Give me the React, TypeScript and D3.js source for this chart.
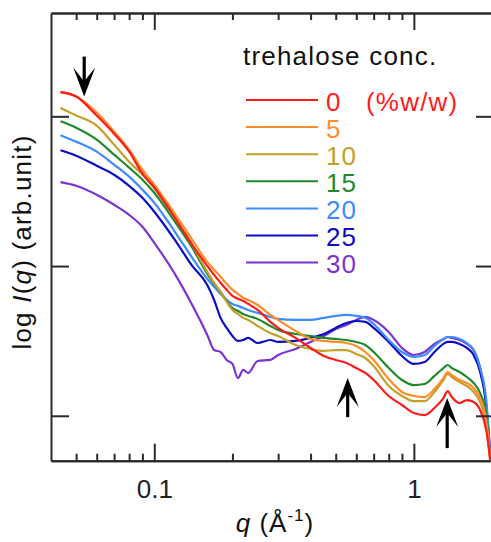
import React, { useRef, useEffect } from "react";
import * as d3 from "d3";

// scattering vector q (1/Å), shared by all curves
const qValues = [0.0435, 0.05, 0.06, 0.07, 0.08, 0.09, 0.1, 0.12, 0.14, 0.16, 0.17, 0.18, 0.19, 0.2, 0.21, 0.22, 0.23, 0.25, 0.28, 0.3, 0.35, 0.4, 0.45, 0.5, 0.55, 0.6, 0.65, 0.7, 0.8, 0.9, 1.0, 1.1, 1.2, 1.3, 1.35, 1.4, 1.5, 1.6, 1.7, 1.8, 1.9, 1.97];

// log I(q), arbitrary offset
const logI0 = [2.161, 2.132, 2.005, 1.884, 1.764, 1.617, 1.523, 1.322, 1.142, 1.001, 0.941, 0.888, 0.841, 0.801, 0.781, 0.767, 0.747, 0.707, 0.627, 0.587, 0.52, 0.453, 0.399, 0.373, 0.353, 0.319, 0.286, 0.239, 0.132, 0.072, 0.018, 0.005, 0.052, 0.118, 0.165, 0.125, 0.085, 0.105, 0.092, 0.038, -0.096, -0.296];
const logI5 = [2.161, 2.132, 2.025, 1.898, 1.777, 1.643, 1.543, 1.349, 1.175, 1.028, 0.975, 0.928, 0.881, 0.841, 0.814, 0.787, 0.774, 0.74, 0.674, 0.64, 0.567, 0.513, 0.5, 0.493, 0.486, 0.466, 0.426, 0.373, 0.245, 0.159, 0.132, 0.125, 0.179, 0.252, 0.292, 0.272, 0.239, 0.219, 0.185, 0.118, -0.029, -0.296];
const logI10 = [2.055, 2.005, 1.938, 1.811, 1.697, 1.61, 1.523, 1.322, 1.142, 0.961, 0.888, 0.827, 0.761, 0.707, 0.68, 0.654, 0.64, 0.6, 0.553, 0.533, 0.473, 0.446, 0.433, 0.439, 0.439, 0.413, 0.386, 0.332, 0.199, 0.132, 0.098, 0.098, 0.159, 0.239, 0.279, 0.259, 0.225, 0.199, 0.159, 0.092, -0.062, -0.31];
const logI15 = [1.967, 1.924, 1.844, 1.744, 1.657, 1.577, 1.49, 1.296, 1.122, 0.948, 0.881, 0.827, 0.767, 0.72, 0.7, 0.68, 0.667, 0.647, 0.6, 0.573, 0.546, 0.533, 0.52, 0.513, 0.506, 0.493, 0.473, 0.426, 0.319, 0.239, 0.205, 0.212, 0.266, 0.319, 0.339, 0.319, 0.292, 0.259, 0.219, 0.152, 0.005, -0.283];
const logI20 = [1.874, 1.831, 1.764, 1.677, 1.597, 1.51, 1.423, 1.229, 1.055, 0.914, 0.861, 0.814, 0.774, 0.747, 0.734, 0.72, 0.707, 0.687, 0.66, 0.647, 0.64, 0.64, 0.654, 0.667, 0.674, 0.667, 0.654, 0.613, 0.506, 0.426, 0.393, 0.406, 0.466, 0.513, 0.526, 0.526, 0.513, 0.486, 0.439, 0.319, 0.105, -0.263];
const logI25 = [1.773, 1.737, 1.67, 1.61, 1.536, 1.456, 1.363, 1.175, 1.001, 0.874, 0.774, 0.654, 0.587, 0.533, 0.5, 0.506, 0.52, 0.486, 0.506, 0.493, 0.5, 0.52, 0.546, 0.587, 0.62, 0.633, 0.627, 0.587, 0.493, 0.399, 0.346, 0.359, 0.426, 0.48, 0.493, 0.493, 0.48, 0.453, 0.406, 0.292, 0.072, -0.263];
const logI30 = [1.56, 1.536, 1.476, 1.409, 1.342, 1.262, 1.155, 0.948, 0.74, 0.54, 0.439, 0.426, 0.373, 0.346, 0.252, 0.306, 0.286, 0.366, 0.373, 0.406, 0.446, 0.493, 0.533, 0.58, 0.607, 0.64, 0.66, 0.64, 0.56, 0.453, 0.406, 0.426, 0.48, 0.513, 0.526, 0.52, 0.506, 0.48, 0.439, 0.319, 0.072, -0.283];

const concLabels = ["0", "5", "10", "15", "20", "25", "30"];
const seriesColors = ["#ff1a1a", "#ff8c28", "#c4a02a", "#1f8a2a", "#3d8cff", "#0c0cc4", "#7a34d2"];
const allSeries = [logI0, logI5, logI10, logI15, logI20, logI25, logI30];

// arrows: q position, tip and tail in log I
const arrowQ = [0.0537, 0.556, 1.344];
const arrowTip = [2.132, 0.252, 0.118];
const arrowTail = [2.399, -0.009, -0.216];

const majorQ = [0.1, 1];
const minorQ = [0.05, 0.06, 0.07, 0.08, 0.09, 0.2, 0.3, 0.4, 0.5, 0.6, 0.7, 0.8, 0.9, 2];
const yTicks = [0, 1, 2];

const W = 491;
const H = 542;
const FONT = "'Liberation Sans', Arial, Helvetica, sans-serif";
const AXIS = "#2a2a2a";

function SaxsChart() {
  const svgRef = useRef(null);

  useEffect(() => {
    const svg = d3.select(svgRef.current);
    svg.selectAll("*").remove();

    const left = 51, right = 492, top = 13, bottom = 460.7;

    const x = d3.scaleLog().domain([0.04, 2.0]).range([left, right]);
    const y = d3.scaleLinear().domain([-0.3, 2.69]).range([bottom, top]);

    svg.append("defs").append("clipPath").attr("id", "plotclip")
      .append("rect").attr("x", left).attr("y", top).attr("width", right - left).attr("height", bottom - top);

    // curves, last (30%) drawn first so red is on top
    const line = d3.line()
      .x((d) => x(d[0]))
      .y((d) => y(d[1]))
      .curve(d3.curveMonotoneX);

    const curves = svg.append("g").attr("clip-path", "url(#plotclip)");
    for (let i = allSeries.length - 1; i >= 0; i--) {
      const pts = qValues.map((q, j) => [q, allSeries[i][j]]);
      curves.append("path")
        .attr("d", line(pts))
        .attr("fill", "none")
        .attr("stroke", seriesColors[i])
        .attr("stroke-width", 2.2)
        .attr("stroke-linejoin", "round");
    }

    const styleAxis = (g) => {
      g.select(".domain").attr("stroke", AXIS).attr("stroke-width", 2);
      g.selectAll(".tick line").attr("stroke", AXIS).attr("stroke-width", 2);
    };

    // bottom axis
    const gb = svg.append("g").attr("transform", `translate(0,${bottom})`);
    gb.call(d3.axisBottom(x).tickValues(majorQ).tickSize(-17).tickSizeOuter(0).tickPadding(19)
      .tickFormat((d) => (d === 1 ? "1" : "0.1")));
    styleAxis(gb);
    gb.selectAll("text").attr("font-size", 26).attr("font-family", FONT).attr("fill", "#222");
    const gbm = svg.append("g").attr("transform", `translate(0,${bottom})`);
    gbm.call(d3.axisBottom(x).tickValues(minorQ).tickSize(-7).tickSizeOuter(0).tickFormat(() => ""));
    styleAxis(gbm);

    // top axis
    const gt = svg.append("g").attr("transform", `translate(0,${top})`);
    gt.call(d3.axisTop(x).tickValues(majorQ).tickSize(-17).tickSizeOuter(0).tickFormat(() => ""));
    styleAxis(gt);
    const gtm = svg.append("g").attr("transform", `translate(0,${top})`);
    gtm.call(d3.axisTop(x).tickValues(minorQ).tickSize(-7).tickSizeOuter(0).tickFormat(() => ""));
    styleAxis(gtm);

    // left and right axes
    const gl = svg.append("g").attr("transform", `translate(${left},0)`);
    gl.call(d3.axisLeft(y).tickValues(yTicks).tickSize(-18).tickSizeOuter(0).tickFormat(() => ""));
    styleAxis(gl);
    const gr = svg.append("g").attr("transform", `translate(${right},0)`);
    gr.call(d3.axisRight(y).tickValues(yTicks).tickSize(-16).tickSizeOuter(0).tickFormat(() => ""));
    styleAxis(gr);

    // arrows
    arrowQ.forEach((q, i) => {
      const ax = x(q);
      const tipY = y(arrowTip[i]);
      const tailY = y(arrowTail[i]);
      const dir = tailY < tipY ? 1 : -1; // 1 = pointing down
      const g = svg.append("g").attr("transform", `translate(${ax},${tipY})`);
      const len = Math.abs(tailY - tipY);
      g.append("line")
        .attr("x1", 0).attr("x2", 0)
        .attr("y1", -dir * 14).attr("y2", -dir * len)
        .attr("stroke", "#000").attr("stroke-width", 3.2);
      g.append("path")
        .attr("d", `M0,0 L-11,${-dir * 29} L0,${-dir * 15} L11,${-dir * 29} Z`)
        .attr("fill", "#000");
    });

    // legend
    const lg = svg.append("g").attr("font-family", FONT).attr("font-size", 26);
    lg.append("text").attr("x", 243).attr("y", 65).attr("fill", "#111")
      .attr("letter-spacing", 1.2).text("trehalose conc.");
    concLabels.forEach((c, i) => {
      const ly = 100 + i * 27.1;
      lg.append("line").attr("x1", 246).attr("x2", 318).attr("y1", ly).attr("y2", ly)
        .attr("stroke", seriesColors[i]).attr("stroke-width", 2);
      lg.append("text").attr("x", 326).attr("y", ly + 10.5).attr("fill", seriesColors[i])
        .attr("letter-spacing", 1).text(c);
    });
    lg.append("text").attr("x", 366).attr("y", 110.5).attr("fill", seriesColors[0])
      .attr("letter-spacing", 1.2).text("(%w/w)");

    // y label
    const yl = svg.append("text")
      .attr("transform", "translate(31,242) rotate(-90)")
      .attr("text-anchor", "middle")
      .attr("font-family", FONT).attr("font-size", 26).attr("fill", "#111")
      .attr("letter-spacing", 1.2);
    yl.append("tspan").text("log ");
    yl.append("tspan").attr("font-style", "italic").text("I");
    yl.append("tspan").text("(");
    yl.append("tspan").attr("font-style", "italic").text("q");
    yl.append("tspan").text(") (arb.unit)");

    // x label
    const xl = svg.append("text")
      .attr("x", 275).attr("y", 532)
      .attr("text-anchor", "middle")
      .attr("font-family", FONT).attr("font-size", 26).attr("fill", "#111")
      .attr("letter-spacing", 1);
    xl.append("tspan").attr("font-style", "italic").text("q");
    xl.append("tspan").text(" (Å");
    xl.append("tspan").attr("dy", -11).attr("font-size", 17).text("-1");
    xl.append("tspan").attr("dy", 11).text(")");
  }, []);

  return (
    <svg ref={svgRef} width={W} height={H}
      style={{ position: "absolute", left: 0, top: 0, background: "#fff" }} />
  );
}

export default function App() {
  return <SaxsChart />;
}
